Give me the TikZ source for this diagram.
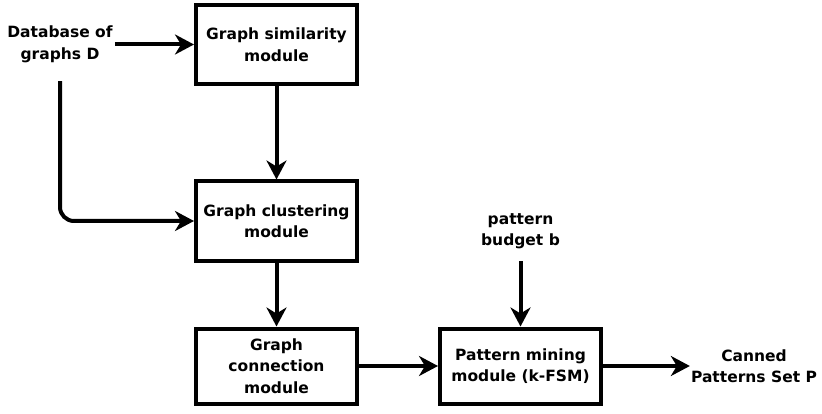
\documentclass[tikz,border=0pt]{standalone}
\usepackage{fontspec}
\setmainfont{DejaVu Sans}
\usetikzlibrary{arrows.meta}

\begin{document}
\begin{tikzpicture}[x=1pt,y=-1pt,
        box/.style={draw,line width=4pt,minimum width=161pt,minimum height=79pt,inner sep=2pt,align=center,font=\bfseries\fontsize{15.5}{21.5}\selectfont},
        lbl/.style={inner sep=2pt,align=center,font=\bfseries\fontsize{15.5}{21.5}\selectfont},
        arr/.style={line width=4pt,-{Stealth[length=19pt,width=20pt,inset=6pt]}}]
        \useasboundingbox (0,0) rectangle (822,414);

        \node[lbl] (db) at (60,44.5) {Database of\\graphs D};
        \node[box] (sim) at (276.5,44.5) {Graph similarity\\module};
        \node[box] (clu) at (276.5,221) {Graph clustering\\module};
        \node[box, minimum height=75pt] (con) at (276.5,366) {Graph\\connection\\module};
        \node[box, minimum height=75pt] (pat) at (520.5,366) {Pattern mining\\module (k-FSM)};
        \node[lbl] (bud) at (520.5,231) {pattern\\budget b};
        \node[lbl, inner sep=1pt] (can) at (754,366) {Canned\\Patterns Set P};

        \draw[arr] (db) -- (sim);
        \draw[arr,rounded corners=14pt] ([yshift=-16pt]db.south) |- (clu);
        \draw[arr] (sim) -- (clu);
        \draw[arr] (clu) -- (con);
        \draw[arr] (con) -- (pat);
        \draw[arr] ([yshift=-10pt]bud.south) -- (pat);
        \draw[arr] (pat) -- (can);
    \end{tikzpicture}
\end{document}
